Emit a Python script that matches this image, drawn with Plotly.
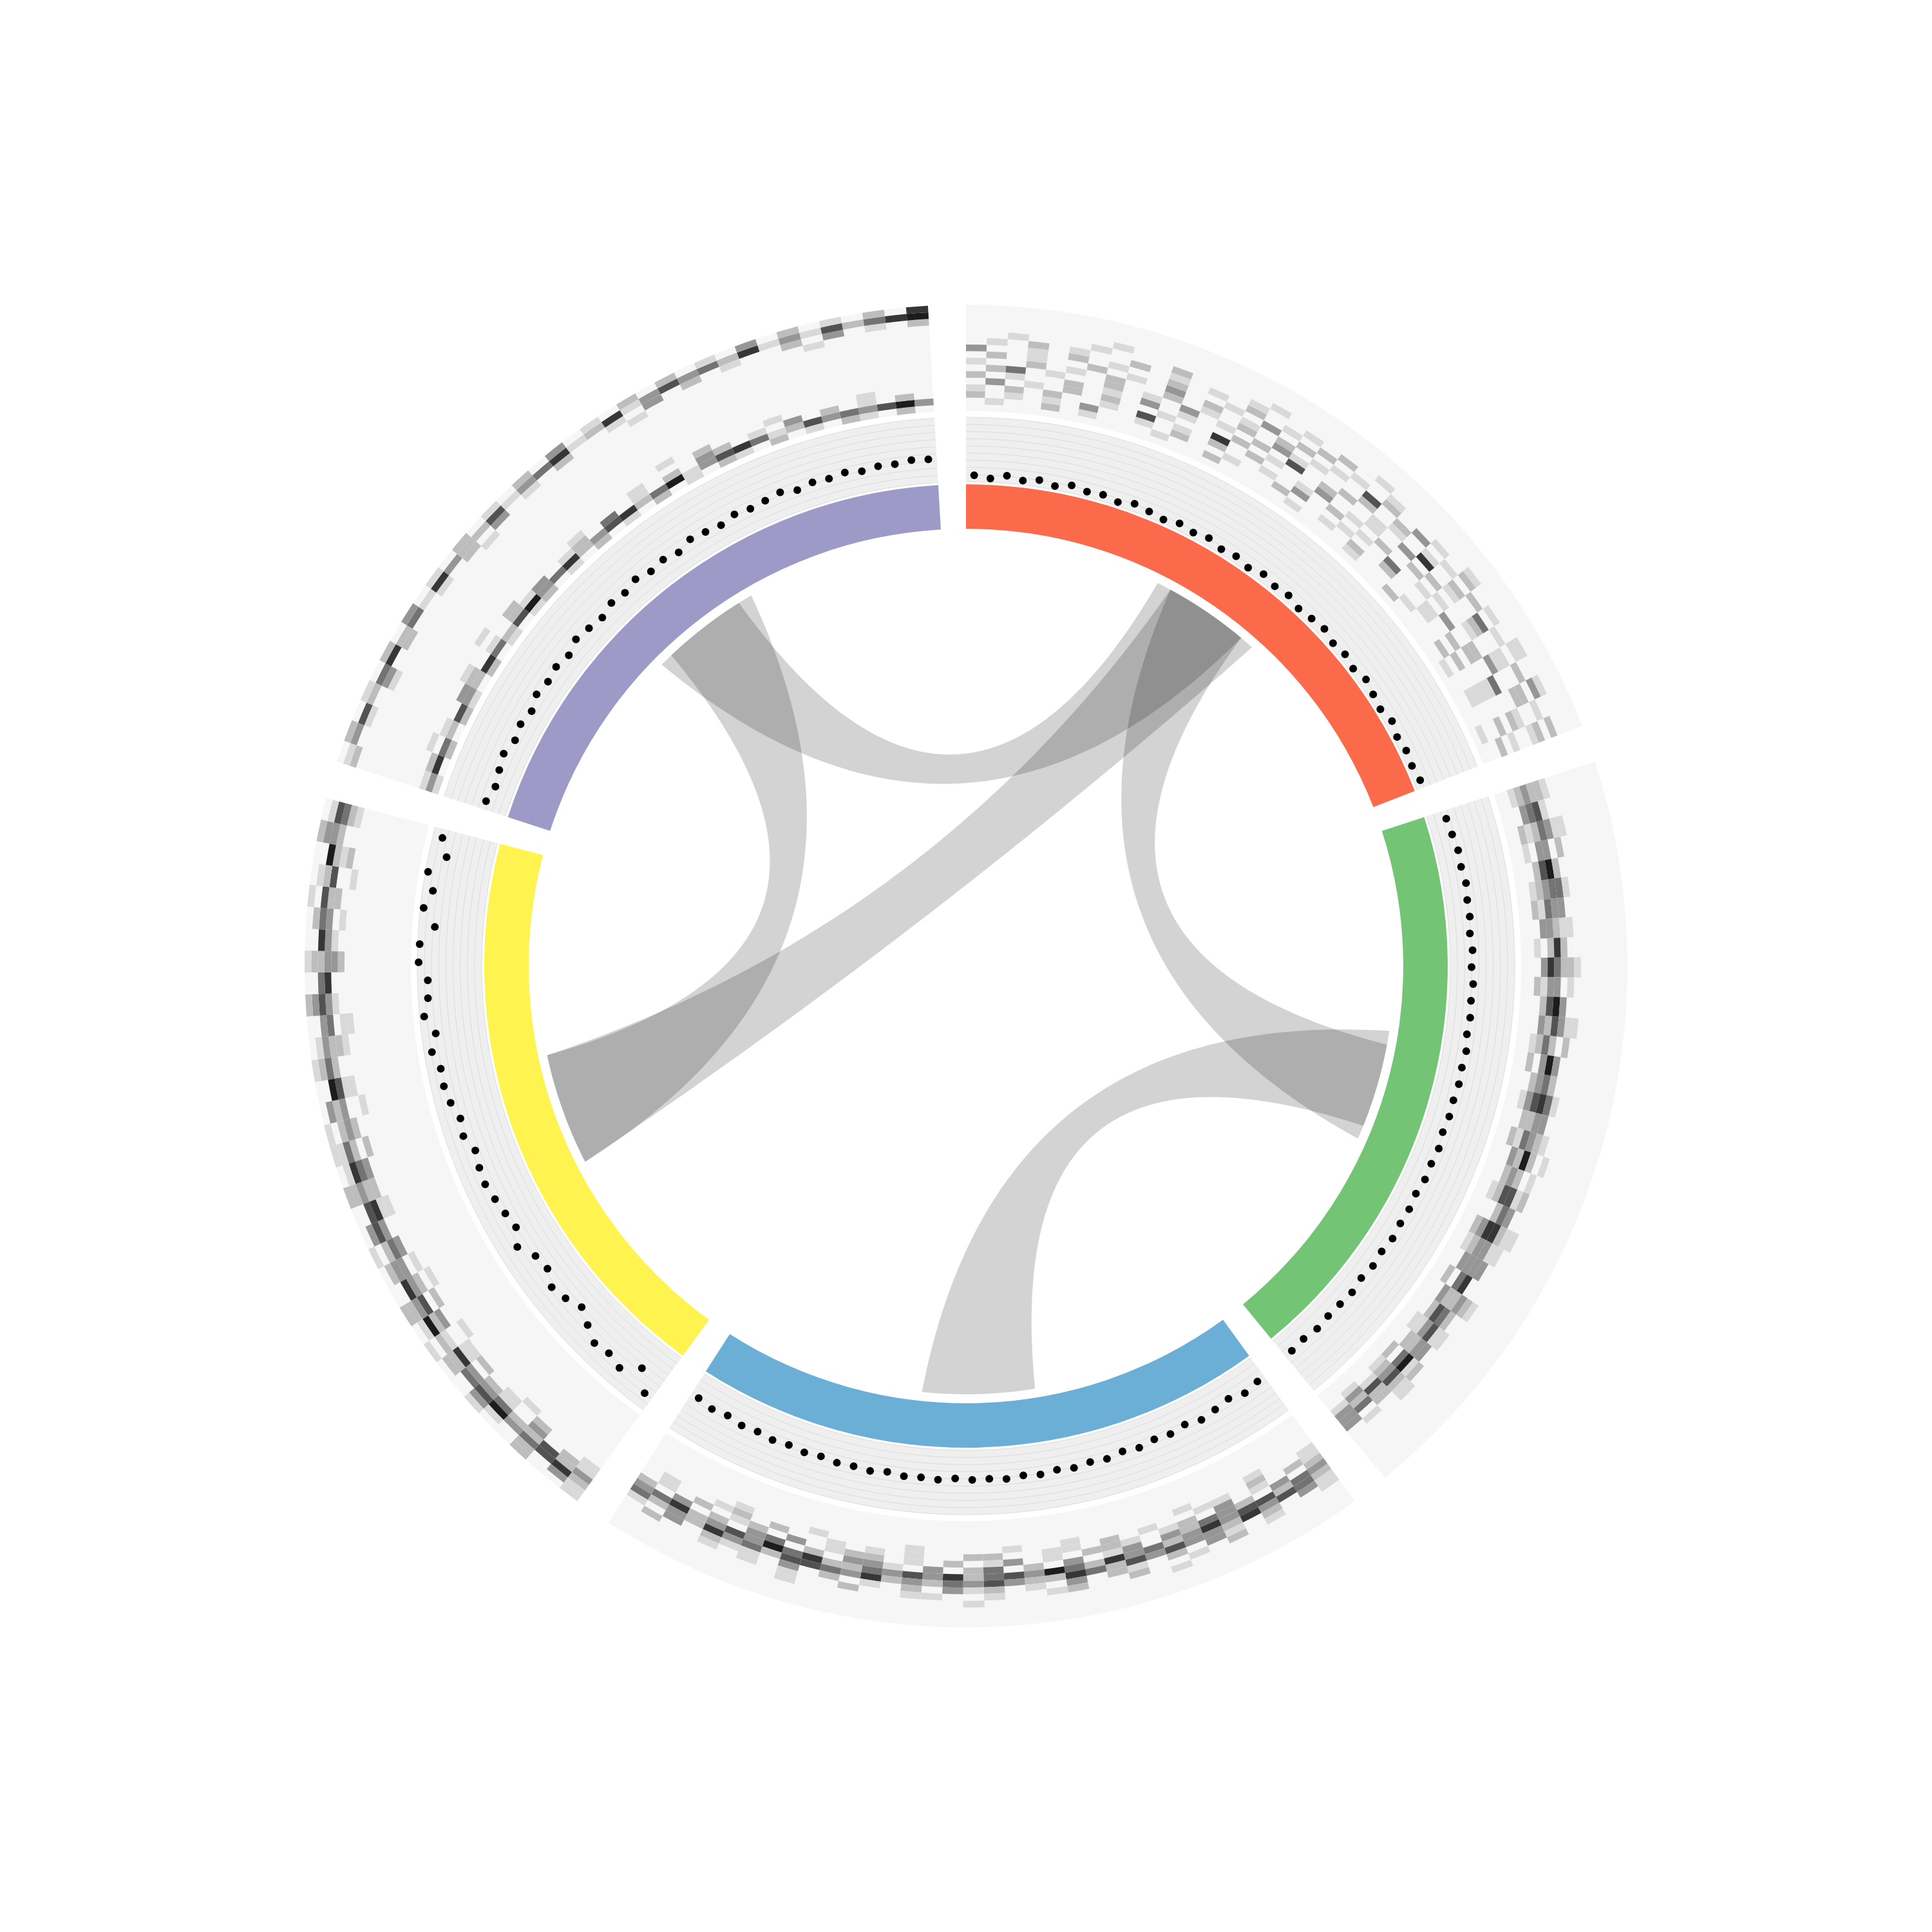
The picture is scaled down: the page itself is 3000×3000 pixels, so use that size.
import math
import numpy as np
import plotly.graph_objects as go

# ---------------- data ----------------
SEGMENTS = ["chr1", "chr2", "chr3", "chr4", "chr5"]
SEG_COLORS = ["#fb6a4a", "#74c476", "#6baed6", "#fff44f", "#9e9ac8"]
N_BINS = 36

# scatter track values (0..1), one per bin, in clockwise order inside each segment
SC_CHR1 = [0.10, 0.06, 0.12, 0.07, 0.11, 0.06, 0.12, 0.08, 0.10, 0.06, 0.12, 0.09,
           0.06, 0.11, 0.08, 0.12, 0.07, 0.10, 0.06, 0.12, 0.08, 0.11, 0.06, 0.09,
           0.12, 0.07, 0.10, 0.06, 0.12, 0.08, 0.05, 0.11, 0.06, 0.09, 0.07, 0.10]
SC_CHR2 = [0.28, 0.30, 0.33, 0.32, 0.35, 0.33, 0.34, 0.32, 0.35, 0.33, 0.36, 0.34,
           0.35, 0.33, 0.36, 0.34, 0.35, 0.33, 0.34, 0.32, 0.35, 0.33, 0.34, 0.31,
           0.33, 0.32, 0.34, 0.31, 0.33, 0.30, 0.33, 0.31, 0.30, 0.32, 0.29, 0.31]
SC_CHR3 = [0.36, 0.40, 0.34, 0.38, 0.42, 0.37, 0.41, 0.39, 0.43, 0.40, 0.44, 0.42,
           0.45, 0.43, 0.46, 0.44, 0.47, 0.45, 0.46, 0.44, 0.47, 0.45, 0.46, 0.43,
           0.46, 0.44, 0.45, 0.42, 0.44, 0.41, 0.43, 0.40, 0.42, 0.38, 0.41, 0.37]
SC_CHR4 = [0.78, 0.50, 0.72, 0.66, 0.70, 0.58, 0.46, 0.56, 0.62, 0.50, 0.54, 0.70,
           0.56, 0.60, 0.64, 0.68, 0.66, 0.62, 0.72, 0.68, 0.76, 0.80, 0.79, 0.88,
           0.78, 0.93, 0.85, 0.84, 0.98, 0.97, 0.75, 0.95, 0.84, 0.96, 0.72, 0.85]
SC_CHR5 = [0.36, 0.30, 0.34, 0.38, 0.31, 0.35, 0.30, 0.37, 0.33, 0.36, 0.31, 0.38,
           0.34, 0.30, 0.36, 0.33, 0.38, 0.32, 0.35, 0.30, 0.37, 0.34, 0.31, 0.36,
           0.33, 0.35, 0.38, 0.32, 0.36, 0.34, 0.37, 0.33, 0.36, 0.35, 0.38, 0.37]
SCATTER = [SC_CHR1, SC_CHR2, SC_CHR3, SC_CHR4, SC_CHR5]

# heatmap track: one string per radial level (inner -> outer), one char per bin
# '.' = empty, '1'..'7' = light -> dark
E = "...... ...... ...... ...... ...... ......"
HM_CHR1 = [
    E,
    ".1..2. 1...1. .2.... 1...1. .2.... 1...1.",
    "2.1.1. 3..1.2 ..1..2 ..1.2. ..1..2 ..1...",
    "1.2.2. .1.5.1 .2..1. 3..1.. 2..1.. 2.1..2",
    ".3.1.2 .2..1. .6.2.. 1.2.1. 4..1.2 ..1.2.",
    "2.1..2 .1.3.1 ..2.1. .3.1.2 ..1.3. 2.1..1",
    ".24.1. .2.1.3 .1.2.5 .2..1. .2.1.. 2.4.2.",
    "1..2.1 .2..2. 1.2.31 ..2.1. 3.2..1 .3..1.",
    ".2.1.. 2.1.3. 2.1.2. 1..2.1 .6.1.2 .1.2.1",
    "3..1.2 .1..2. .1.3.2 .1.5.2 .1.2.4 .1.2.2",
    ".1.2.1 ..2.1. 1.2.1. 2.1.2. 3.1.2. 1.2.1.",
    "..1... 1...2. ..1..1 .2..1. .1.2.1 .1.3.2",
    "...... .1.... ...1.. ...1.. ...1.. .1.1..",
    E, E, E,
]
HM_CHR2 = [
    E, E,
    "1.21.1 2.1.2. .12.1. 2..1.2 1.2..1 .21.1.",
    "231.22 13.312 32.232 1322.3 23.321 2.2131",
    "342353 432635 243352 423526 334253 243523",
    "254374 326437 527463 372546 336245 375243",
    "213.24 3122.3 3.3243 22.132 13.321 3122.3",
    "1.12.1 .1.21. 12..1. 1.12.1 1..2.1 .21.1.",
    "..1... ...1.. 1..... .1...1 ...1.. ..1...",
    E, E, E, E, E, E, E,
]
HM_CHR3 = [
    E, E, E, E,
    "...1.. .1.... .1..1. ...1.. ..1... 1.....",
    "1..2.1 1..1.2 .11..2 2..1.1 .1..2. 21..1.",
    "12.1.3 .21.12 2.1.31 .2.1.2 21.3.2 1.2.1.",
    "2.3.23 423.31 .3.2.4 2.3.13 3.2.43 .2.3.2",
    "342553 632436 247354 263534 226473 532643",
    "245362 335352 462235 342326 345524 362324",
    "13.2.1 3.2.12 .3.1.2 13.2.1 .2.3.1 12.3.1",
    "1..1.2 .1..2. .21..1 ..11.. 2..1.1 .1..2.",
    "...... ..1... ...... 1..... ...1.. ......",
    E, E, E,
]
HM_CHR4 = [
    E, E, E, E, E, E, E, E, E,
    "....1. ...1.. 1..... ...1.. .1.... ..1...",
    "1..2.1 .21..2 .1..1. .2..1. 11..2. 1..2.1",
    "12.3.1 2.1.3. 2.3.12 3.2.1. 2.1.31 .2.1.2",
    "325224 336125 334362 423352 243633 325224",
    "265437 542273 632553 642274 335426 452735",
    "13.2.1 3.2.12 .2.3.2 11.3.2 1.3.2. 2.1.31",
    "1..2.. 1..1.2 ..1..2 .11..1 ..2.1. .1..2.",
]
HM_CHR5 = [
    "1.2.21 .2.1.1 2.1.2. 1.2.1. 21.2.1 .21.2.",
    "364253 264257 346235 624713 564125 343573",
    "12.1.3 2.1.21 3.12.4 .1.2.3 2.1.3. 2.1.2.",
    "..1... 1...2. ...1.. .1...2 ...1.. ..1...",
    "...... ..1... ...... ...1.. ...... ......",
    E, E, E, E, E, E, E,
    "....1. ...... 1..... ...1.. ...... 1.....",
    "2.1.3. 2..1.2 .3.1.2 ..1.3. 2.1..2 .3.1.2",
    "135246 241632 251346 126135 342613 152467",
    ".2.1.2 .3.1.2 .1.2.3 .1.2.2 .1.3.2 .1.2.6",
]
HEATMAP = [HM_CHR1, HM_CHR2, HM_CHR3, HM_CHR4, HM_CHR5]

# links: positions in 0..1000 per segment
LINK_SRC = ["chr1", "chr5", "chr1", "chr1", "chr2"]
LINK_SRC_START = [387, 415, 415, 415, 389]
LINK_SRC_END = [582, 610, 610, 582, 581]
LINK_DST = ["chr5", "chr4", "chr4", "chr2", "chr3"]
LINK_DST_START = [389, 390, 390, 416, 389]
LINK_DST_END = [582, 611, 611, 608, 610]

# ---------------- layout constants ----------------
SEG_STEP = 72.0
GAP = 3.3
SPAN = SEG_STEP - GAP
R_LINK = 665.0
R_CTRL = 78.0
IDEO = (679.0, 748.0)
SC = (752.0, 852.0)
HM = (862.0, 1027.0)
N_LEVELS = 16
N_GRID = 9
SHADES = {"1": "#d9d9d9", "2": "#bdbdbd", "3": "#969696", "4": "#737373",
          "5": "#525252", "6": "#363636", "7": "#1c1c1c"}
SC_BG = "#efefef"
HM_BG = "#f6f6f6"
GRID_COLOR = "#dcdcdc"
LINK_COLOR = "rgba(0,0,0,0.172)"


def seg_start(i):
    return i * SEG_STEP


def pos_theta(seg, pos):
    i = SEGMENTS.index(seg)
    return seg_start(i) + pos / 1000.0 * SPAN


fig = go.Figure()

centers = [seg_start(i) + SPAN / 2 for i in range(len(SEGMENTS))]

# heatmap background band
fig.add_trace(go.Barpolar(
    theta=centers, r=[HM[1] - HM[0]] * 5, base=[HM[0]] * 5, width=[SPAN] * 5,
    marker=dict(color=HM_BG, line=dict(width=0)), hoverinfo="skip"))
# scatter background band
fig.add_trace(go.Barpolar(
    theta=centers, r=[SC[1] - SC[0]] * 5, base=[SC[0]] * 5, width=[SPAN] * 5,
    marker=dict(color=SC_BG, line=dict(width=0)), hoverinfo="skip"))

# heatmap tiles
bw = SPAN / N_BINS
lh = (HM[1] - HM[0]) / N_LEVELS
t_theta, t_base, t_r, t_col = [], [], [], []
for i, rows in enumerate(HEATMAP):
    for lvl, row in enumerate(rows):
        cells = row.replace(" ", "")
        cells = (cells + "." * N_BINS)[:N_BINS]
        for b, ch in enumerate(cells):
            if ch in SHADES:
                t_theta.append(seg_start(i) + (b + 0.5) * bw)
                t_base.append(HM[0] + lvl * lh)
                t_r.append(lh)
                t_col.append(SHADES[ch])
fig.add_trace(go.Barpolar(
    theta=t_theta, r=t_r, base=t_base, width=[bw] * len(t_theta),
    marker=dict(color=t_col, line=dict(width=0)), hoverinfo="skip"))

# ideogram
fig.add_trace(go.Barpolar(
    theta=centers, r=[IDEO[1] - IDEO[0]] * 5, base=[IDEO[0]] * 5, width=[SPAN] * 5,
    marker=dict(color=SEG_COLORS, line=dict(width=0)), hoverinfo="skip"))

# grid lines of scatter track
g_r, g_t = [], []
for i in range(len(SEGMENTS)):
    ths = np.linspace(seg_start(i), seg_start(i) + SPAN, 140)
    for k in range(N_GRID + 1):
        rr = SC[0] + k * (SC[1] - SC[0]) / N_GRID
        g_t.extend(list(ths) + [None])
        g_r.extend([rr] * len(ths) + [None])
fig.add_trace(go.Scatterpolar(
    r=g_r, theta=g_t, mode="lines", line=dict(color=GRID_COLOR, width=1),
    hoverinfo="skip", connectgaps=False))


# links
def p2xy(r, th):
    t = math.radians(th)
    return r * math.sin(t), r * math.cos(t)


def bez(a, b, n=90):
    P0 = p2xy(R_LINK, a)
    P2 = p2xy(R_LINK, b)
    sx, sy = P0[0] + P2[0], P0[1] + P2[1]
    norm = math.hypot(sx, sy)
    if norm > 1e-6:
        C = (R_CTRL * sx / norm, R_CTRL * sy / norm)
    else:
        C = (0.0, 0.0)
    rs, ts = [], []
    for t in np.linspace(0, 1, n)[1:-1]:
        x = (1 - t) ** 2 * P0[0] + 2 * t * (1 - t) * C[0] + t ** 2 * P2[0]
        y = (1 - t) ** 2 * P0[1] + 2 * t * (1 - t) * C[1] + t ** 2 * P2[1]
        rs.append(math.hypot(x, y))
        ts.append(math.degrees(math.atan2(x, y)))
    return rs, ts


for k in range(len(LINK_SRC)):
    a1 = pos_theta(LINK_SRC[k], LINK_SRC_START[k])
    a2 = pos_theta(LINK_SRC[k], LINK_SRC_END[k])
    b1 = pos_theta(LINK_DST[k], LINK_DST_START[k])
    b2 = pos_theta(LINK_DST[k], LINK_DST_END[k])
    rs, ts = [], []
    arc = list(np.linspace(a1, a2, 40))
    rs += [R_LINK] * len(arc); ts += arc
    r_, t_ = bez(a2, b1); rs += r_; ts += t_
    arc = list(np.linspace(b1, b2, 40))
    rs += [R_LINK] * len(arc); ts += arc
    r_, t_ = bez(b2, a1); rs += r_; ts += t_
    rs.append(rs[0]); ts.append(ts[0])
    fig.add_trace(go.Scatterpolar(
        r=rs, theta=ts, mode="lines", fill="toself", fillcolor=LINK_COLOR,
        line=dict(width=0, color="rgba(0,0,0,0)"), hoverinfo="skip"))

# scatter points
d_r, d_t = [], []
for i, vals in enumerate(SCATTER):
    for b, v in enumerate(vals):
        d_t.append(seg_start(i) + (b + 0.5) * bw)
        d_r.append(SC[0] + v * (SC[1] - SC[0]))
fig.add_trace(go.Scatterpolar(
    r=d_r, theta=d_t, mode="markers",
    marker=dict(size=12, color="#000000", line=dict(width=0)), hoverinfo="skip"))

fig.update_layout(
    width=3000, height=3000, margin=dict(l=0, r=0, t=0, b=0, pad=0),
    paper_bgcolor="white", plot_bgcolor="white", showlegend=False,
    polar=dict(
        domain=dict(x=[0, 1], y=[0, 1]), bgcolor="white", barmode="overlay", hole=0,
        radialaxis=dict(range=[0, 1500], visible=False, showgrid=False, showline=False,
                        showticklabels=False, ticks=""),
        angularaxis=dict(rotation=90, direction="clockwise", visible=False, showgrid=False,
                         showline=False, showticklabels=False, ticks=""),
    ),
)
fig.write_html("out.html")
